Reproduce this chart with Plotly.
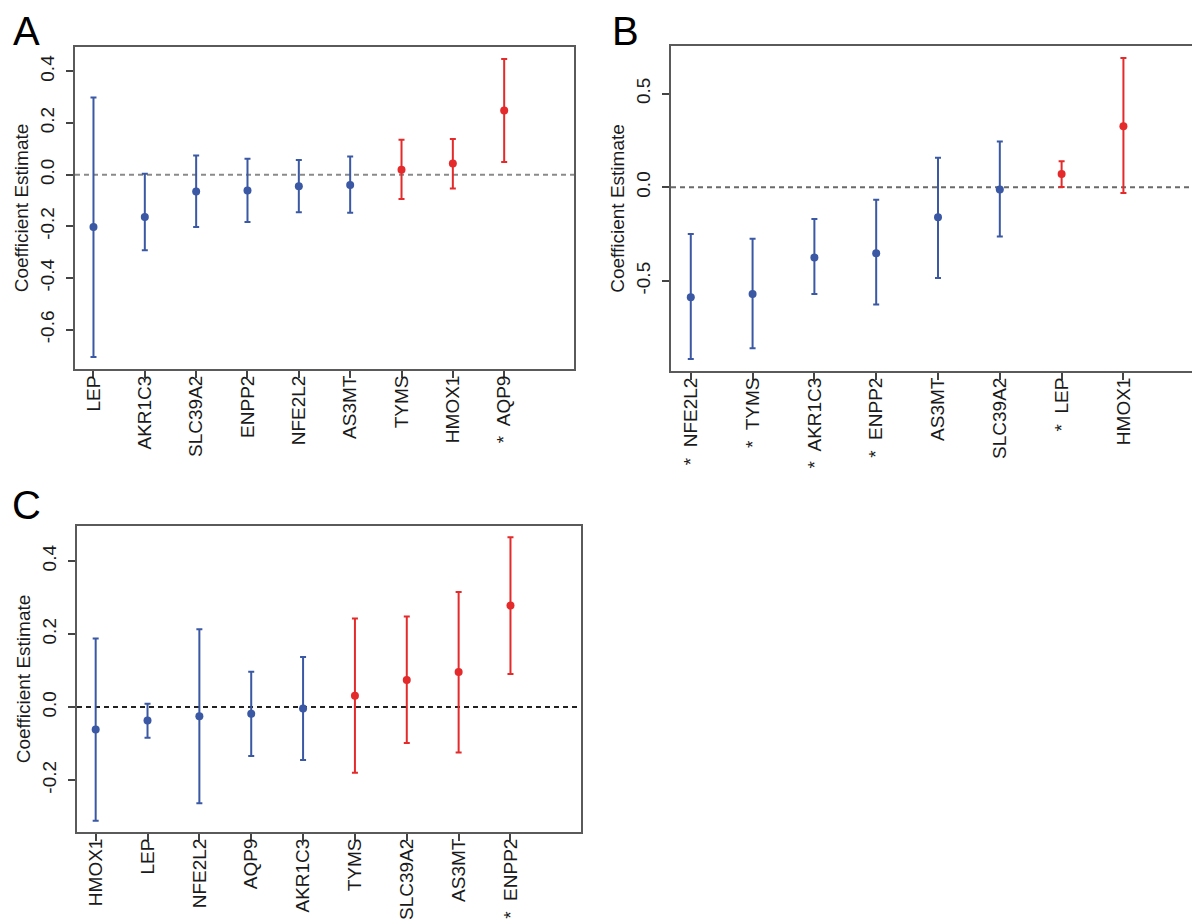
import plotly.graph_objects as go

# panel A
a_genes = ["LEP", "AKR1C3", "SLC39A2", "ENPP2", "NFE2L2", "AS3MT", "TYMS", "HMOX1", "AQP9"]
a_sig = [False, False, False, False, False, False, False, False, True]
a_est = [-0.203, -0.164, -0.065, -0.061, -0.045, -0.040, 0.019, 0.043, 0.248]
a_lo = [-0.706, -0.293, -0.203, -0.183, -0.145, -0.147, -0.094, -0.054, 0.049]
a_hi = [0.299, 0.004, 0.074, 0.062, 0.057, 0.070, 0.135, 0.138, 0.448]
a_yticks = [-0.6, -0.4, -0.2, 0.0, 0.2, 0.4]

# panel B
b_genes = ["NFE2L2", "TYMS", "AKR1C3", "ENPP2", "AS3MT", "SLC39A2", "LEP", "HMOX1"]
b_sig = [True, True, True, True, False, False, True, False]
b_est = [-0.587, -0.569, -0.374, -0.352, -0.160, -0.012, 0.071, 0.326]
b_lo = [-0.916, -0.859, -0.569, -0.625, -0.484, -0.263, 0.002, -0.030]
b_hi = [-0.249, -0.274, -0.169, -0.066, 0.158, 0.244, 0.139, 0.690]
b_yticks = [-0.5, 0.0, 0.5]

# panel C
c_genes = ["HMOX1", "LEP", "NFE2L2", "AQP9", "AKR1C3", "TYMS", "SLC39A2", "AS3MT", "ENPP2"]
c_sig = [False, False, False, False, False, False, False, False, True]
c_est = [-0.061, -0.037, -0.025, -0.018, -0.004, 0.031, 0.074, 0.096, 0.278]
c_lo = [-0.311, -0.084, -0.263, -0.134, -0.145, -0.180, -0.098, -0.124, 0.091]
c_hi = [0.188, 0.009, 0.213, 0.097, 0.137, 0.243, 0.248, 0.315, 0.465]
c_yticks = [-0.2, 0.0, 0.2, 0.4]

BLUE = "#3a58a3"
RED = "#e42a2a"
FONT = "Liberation Sans, Arial, sans-serif"

panels = [
    dict(letter="A", genes=a_genes, sig=a_sig, est=a_est, lo=a_lo, hi=a_hi, yticks=a_yticks,
         dom_x=[67 / 1200, 566 / 1200], dom_y=[1 - 361 / 924, 1 - 39 / 924],
         zero_color="#8a8a8a", letter_xy=(18, 0)),
    dict(letter="B", genes=b_genes, sig=b_sig, est=b_est, lo=b_lo, hi=b_hi, yticks=b_yticks,
         dom_x=[663 / 1200, 1197 / 1200], dom_y=[1 - 363 / 924, 1 - 38 / 924],
         zero_color="#6a6a6a", letter_xy=(617, 0)),
    dict(letter="C", genes=c_genes, sig=c_sig, est=c_est, lo=c_lo, hi=c_hi, yticks=c_yticks,
         dom_x=[69 / 1200, 573 / 1200], dom_y=[1 - 824 / 924, 1 - 518 / 924],
         zero_color="#222222", letter_xy=(18, 474)),
]

fig = go.Figure()

for i, p in enumerate(panels):
    n = len(p["genes"])
    xa = "x" if i == 0 else f"x{i + 1}"
    ya = "y" if i == 0 else f"y{i + 1}"
    labels = [("*  " + g) if s else g for g, s in zip(p["genes"], p["sig"])]

    for color, positive in [(BLUE, False), (RED, True)]:
        idx = [k for k in range(n) if (p["est"][k] > 0) == positive]
        fig.add_trace(go.Scatter(
            x=[labels[k] for k in idx],
            y=[p["est"][k] for k in idx],
            mode="markers",
            marker=dict(color=color, size=8),
            error_y=dict(
                type="data",
                symmetric=False,
                array=[p["hi"][k] - p["est"][k] for k in idx],
                arrayminus=[p["est"][k] - p["lo"][k] for k in idx],
                color=color,
                thickness=2,
                width=3,
            ),
            xaxis=xa,
            yaxis=ya,
            showlegend=False,
        ))

    # R style limits: xlim c(1, n+1), 4% padding on both axes
    xpad = 0.04 * n
    ymin, ymax = min(p["lo"]), max(p["hi"])
    ypad = 0.04 * (ymax - ymin)

    axis_common = dict(
        showline=True,
        mirror=True,
        linecolor="#5a5a5a",
        linewidth=2,
        ticks="outside",
        ticklen=7,
        tickwidth=1.5,
        tickcolor="#444444",
        showgrid=False,
        zeroline=False,
        tickfont=dict(family=FONT, size=19, color="#1a1a1a"),
    )
    fig.layout[("xaxis" if i == 0 else f"xaxis{i + 1}")] = dict(
        axis_common,
        domain=p["dom_x"],
        anchor=ya,
        type="category",
        categoryorder="array",
        categoryarray=labels,
        range=[-xpad, n + xpad],
        tickangle=-90,
        ticklabelstandoff=-10,
    )
    fig.layout[("yaxis" if i == 0 else f"yaxis{i + 1}")] = dict(
        axis_common,
        domain=p["dom_y"],
        anchor=xa,
        range=[ymin - ypad, ymax + ypad],
        tickvals=p["yticks"],
        ticktext=[f"{v:.1f}" for v in p["yticks"]],
        tickangle=-90,
        ticklabelstandoff=4,
        title=dict(text="Coefficient Estimate", font=dict(family=FONT, size=19, color="#1a1a1a"), standoff=4),
    )

    fig.add_shape(
        type="line",
        xref=f"{xa} domain",
        yref=ya,
        x0=0, x1=1, y0=0, y1=0,
        line=dict(color=p["zero_color"], width=2, dash="5px,4px"),
        layer="below",
    )
    fig.add_annotation(
        text=p["letter"],
        xref="paper", yref="paper",
        x=p["letter_xy"][0] / 1200, y=1 - p["letter_xy"][1] / 924,
        xanchor="center", yanchor="top",
        showarrow=False,
        borderpad=0,
        font=dict(family=FONT, size=40, color="#000000"),
    )

fig.update_layout(
    width=1200,
    height=924,
    margin=dict(l=0, r=0, t=0, b=0),
    paper_bgcolor="white",
    plot_bgcolor="white",
    font=dict(family=FONT),
)

fig.write_html("out.html")
